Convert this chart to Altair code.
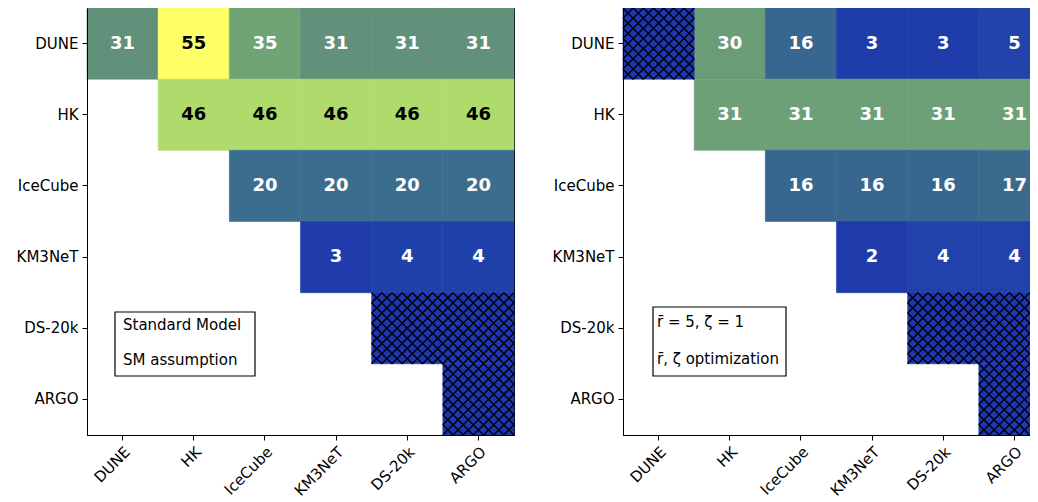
import altair as alt
import pandas as pd

# ---------------- data ----------------
DETECTORS = ["DUNE", "HK", "IceCube", "KM3NeT", "DS-20k", "ARGO"]

SM_VALUES = [
    [31, 55, 35, 31, 31, 31],
    [None, 46, 46, 46, 46, 46],
    [None, None, 20, 20, 20, 20],
    [None, None, None, 3, 4, 4],
    [None, None, None, None, None, None],
    [None, None, None, None, None, None],
]
SM_HATCHED = [("DS-20k", "DS-20k"), ("DS-20k", "ARGO"), ("ARGO", "ARGO")]
SM_BOX = ["Standard Model", "SM assumption"]

OPT_VALUES = [
    [None, 30, 16, 3, 3, 5],
    [None, 31, 31, 31, 31, 31],
    [None, None, 16, 16, 16, 17],
    [None, None, None, 2, 4, 4],
    [None, None, None, None, None, None],
    [None, None, None, None, None, None],
]
OPT_HATCHED = [("DUNE", "DUNE"), ("DS-20k", "DS-20k"), ("DS-20k", "ARGO"), ("ARGO", "ARGO")]
OPT_BOX = ["r\u0304 = 5, \u03b6 = 1", "r\u0304, \u03b6 optimization"]

# ---------------- styles ----------------
SM_STOPS = [3, 4, 20, 31, 35, 46, 55]
SM_COLORS = ["#1f3caa", "#2141aa", "#3b6e8e", "#61917a", "#71a474", "#aedb6b", "#ffff66"]
OPT_STOPS = [2, 3, 4, 5, 16, 17, 30, 31]
OPT_COLORS = ["#1e3aab", "#1f3cab", "#2141ab", "#2343aa", "#37678f", "#3a6b8e", "#6a9c78", "#6da077"]
HATCH_BG = "#1e36b2"
FONT = "DejaVu Sans"
SIDE = 427
CELL = SIDE / 6.0


def crosshatch_path(n=7):
    step = 2.0 / n
    parts = []
    for k in range(-n + 1, n):
        b = k * step
        x0, x1 = max(-1.0, -1.0 - b), min(1.0, 1.0 - b)
        parts.append(f"M{x0:.4f},{x0 + b:.4f}L{x1:.4f},{x1 + b:.4f}")
        x0, x1 = max(-1.0, b - 1.0), min(1.0, b + 1.0)
        parts.append(f"M{x0:.4f},{-x0 + b:.4f}L{x1:.4f},{-x1 + b:.4f}")
    return "".join(parts)


HATCH_PATH = crosshatch_path(7)


def panel(values, hatched, stops, colors, box_lines, box):
    recs = []
    for i, row in enumerate(values):
        for j, v in enumerate(row):
            if v is not None:
                recs.append({"row": DETECTORS[i], "col": DETECTORS[j], "value": v})
    df = pd.DataFrame(recs)
    hdf = pd.DataFrame(hatched, columns=["row", "col"])

    x = alt.X("col:N", sort=DETECTORS,
              scale=alt.Scale(type="band", domain=DETECTORS, paddingInner=0, paddingOuter=0),
              axis=alt.Axis(title=None, labelAngle=-45, labelAlign="right", labelBaseline="top",
                            labelOverlap=False, labelPadding=4, labelFontSize=15, labelFont=FONT,
                            labelColor="black", tickColor="black", domainColor="black", tickSize=5))
    y = alt.Y("row:N", sort=DETECTORS,
              scale=alt.Scale(type="band", domain=DETECTORS, paddingInner=0, paddingOuter=0),
              axis=alt.Axis(title=None, labelOverlap=False, labelPadding=4, labelFontSize=15,
                            labelFont=FONT, labelColor="black", tickColor="black",
                            domainColor="black", tickSize=5))

    cscale = alt.Scale(domain=stops, range=colors)
    cells = alt.Chart(df).mark_rect(strokeWidth=0.6).encode(
        x=x, y=y,
        color=alt.Color("value:Q", scale=cscale, legend=None),
        stroke=alt.Stroke("value:Q", scale=cscale, legend=None),
    )
    hbg = alt.Chart(hdf).mark_rect(color=HATCH_BG, stroke=HATCH_BG, strokeWidth=0.6).encode(x=x, y=y)
    hlines = alt.Chart(hdf).mark_point(
        shape=HATCH_PATH, size=CELL * CELL, filled=False, stroke="black",
        strokeWidth=1.4, opacity=1,
    ).encode(x=x, y=y)
    txt = alt.Chart(df).mark_text(font=FONT, fontSize=18, fontWeight="bold").encode(
        x=x, y=y, text=alt.Text("value:Q", format="d"),
        color=alt.condition(alt.datum.value > 40, alt.value("black"), alt.value("white")),
    )
    bx0, bx1, by0, by1, tx, ty1, ty2 = box
    one = pd.DataFrame({"k": [0]})
    frame = alt.Chart(one).mark_rect(fill="white", stroke="black", strokeWidth=1.2).encode(
        x=alt.value(bx0), x2=alt.value(bx1), y=alt.value(by0), y2=alt.value(by1))
    t1 = alt.Chart(one).mark_text(font=FONT, fontSize=15, align="left", baseline="alphabetic",
                                  color="black").encode(
        x=alt.value(tx), y=alt.value(ty1), text=alt.value(box_lines[0]))
    t2 = alt.Chart(one).mark_text(font=FONT, fontSize=15, align="left", baseline="alphabetic",
                                  color="black").encode(
        x=alt.value(tx), y=alt.value(ty2), text=alt.value(box_lines[1]))
    return alt.layer(cells, hbg, hlines, txt, frame, t1, t2).properties(width=SIDE, height=SIDE)


left = panel(SM_VALUES, SM_HATCHED, SM_STOPS, SM_COLORS, SM_BOX, (28, 168, 304, 368, 36, 322, 357))
right = panel(OPT_VALUES, OPT_HATCHED, OPT_STOPS, OPT_COLORS, OPT_BOX, (30, 163, 299, 368, 34, 319, 356))

chart = alt.hconcat(left, right, spacing=33).resolve_scale(color="independent", stroke="independent").properties(
    autosize=alt.AutoSizeParams(type="none"),
    padding={"left": 79, "top": 0, "right": 943, "bottom": 486}, background="white"
).configure_view(stroke="black", strokeWidth=1)

chart.save("out.html", embed_options={"renderer": "svg", "actions": False})
